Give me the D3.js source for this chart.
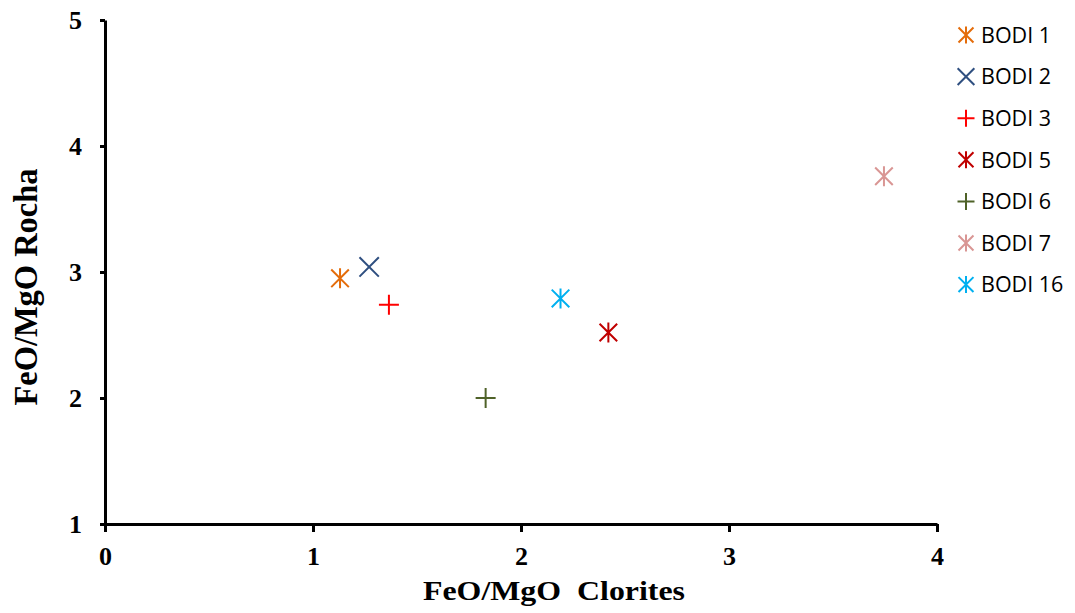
<!DOCTYPE html>
<html>
<head>
<meta charset="utf-8">
<script src="https://cdn.jsdelivr.net/npm/d3@7"></script>
<style>
  body { margin: 0; background: #fff; }
</style>
</head>
<body>
<div id="chart"></div>
<script>
let names   = ["BODI 1", "BODI 2", "BODI 3", "BODI 5", "BODI 6", "BODI 7", "BODI 16"];
let xValues = [1.13, 1.27, 1.365, 2.42, 1.83, 3.745, 2.19];
let yValues = [2.95, 3.04, 2.74, 2.52, 2.0, 3.76, 2.79];
let shapes  = ["star", "cross", "plus", "star", "plus", "star", "star"];
let colors  = ["#E46C0A", "#2F4F80", "#FF0000", "#C00000", "#4F6228", "#D99694", "#00B0F0"];
let xTicks  = [0, 1, 2, 3, 4];
let yTicks  = [1, 2, 3, 4, 5];

let width = 1075, height = 613;
let margin = { top: 20, right: 138, bottom: 89, left: 105 };
let serif = "Liberation Serif, Times New Roman, serif";

let svg = d3.select("#chart").append("svg")
  .attr("width", width).attr("height", height);

let x = d3.scaleLinear().domain([0, 4]).range([margin.left, width - margin.right]);
let y = d3.scaleLinear().domain([1, 5]).range([height - margin.bottom, margin.top]);

let xAxis = svg.append("g")
  .attr("transform", "translate(0," + y(1) + ")")
  .call(d3.axisBottom(x).tickValues(xTicks).tickFormat(d3.format("d")).tickSizeInner(8).tickSizeOuter(0).tickPadding(15));

let yAxis = svg.append("g")
  .attr("transform", "translate(" + x(0) + ",0)")
  .call(d3.axisLeft(y).tickValues(yTicks).tickFormat(d3.format("d")).tickSizeInner(5).tickSizeOuter(0).tickPadding(18));

[xAxis, yAxis].forEach(function(ax) {
  ax.select(".domain").attr("stroke-width", 3);
  ax.selectAll(".tick line").attr("stroke-width", 3);
  ax.selectAll(".tick text")
    .attr("fill", "#000")
    .style("font-family", serif).style("font-weight", "bold").style("font-size", "26px");
});

svg.append("text")
  .attr("x", 423).attr("y", 600)
  .attr("textLength", 262).attr("lengthAdjust", "spacingAndGlyphs")
  .style("font-family", serif).style("font-weight", "bold").style("font-size", "27px")
  .text("FeO/MgO\u00a0\u00a0Clorites");

svg.append("text")
  .attr("transform", "translate(37,287) rotate(-90)")
  .attr("text-anchor", "middle")
  .attr("textLength", 237).attr("lengthAdjust", "spacingAndGlyphs")
  .style("font-family", serif).style("font-weight", "bold").style("font-size", "33px")
  .text("FeO/MgO Rocha");

// star = vertical bar + X, cross = X, plus = +
function markerPath(shape, r) {
  let k = r * 0.88;
  if (shape === "plus") return "M" + (-r) + ",0H" + r + "M0," + (-r) + "V" + r;
  let d = "M" + (-k) + "," + (-k) + "L" + k + "," + k + "M" + (-k) + "," + k + "L" + k + "," + (-k);
  if (shape === "star") d += "M0," + (-r) + "V" + r;
  return d;
}

let points = names.map(function(n, i) {
  return { name: n, x: xValues[i], y: yValues[i], shape: shapes[i], color: colors[i] };
});

svg.selectAll(".pt")
  .data(points)
  .enter().append("path")
    .attr("class", "pt")
    .attr("transform", function(d) { return "translate(" + x(d.x) + "," + y(d.y) + ")"; })
    .attr("d", function(d) { return markerPath(d.shape, d.shape === "cross" ? 11 : 10); })
    .attr("fill", "none")
    .attr("stroke", function(d) { return d.color; })
    .attr("stroke-width", 2);

let legend = svg.selectAll(".lg")
  .data(points)
  .enter().append("g")
    .attr("class", "lg")
    .attr("transform", function(d, i) { return "translate(966," + (35 + i * 41.6) + ")"; });

legend.append("path")
  .attr("d", function(d) { return markerPath(d.shape, d.shape === "cross" ? 9.5 : 8.5); })
  .attr("fill", "none")
  .attr("stroke", function(d) { return d.color; })
  .attr("stroke-width", 2);

legend.append("text")
  .attr("x", 15).attr("dy", "0.36em")
  .style("font-family", "Open Sans, sans-serif").style("font-size", "21.5px")
  .text(function(d) { return d.name; });
</script>
</body>
</html>
